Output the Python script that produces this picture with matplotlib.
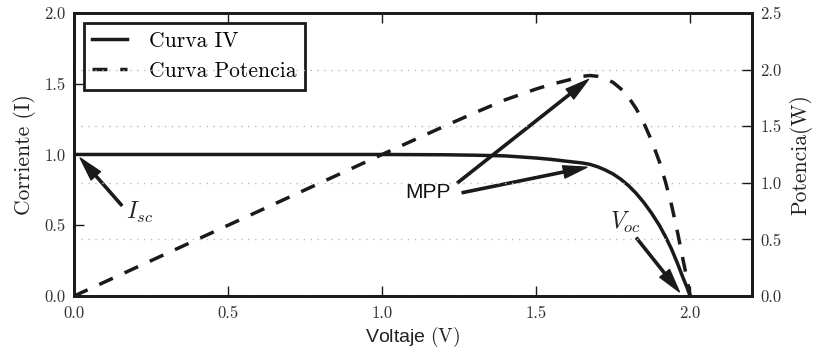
import matplotlib
matplotlib.use("Agg")
import matplotlib.pyplot as plt

plt.rcParams['font.family'] = 'serif'
plt.rcParams['font.serif'] = ['cmr10', 'DejaVu Serif']
plt.rcParams['mathtext.fontset'] = 'cm'
plt.rcParams['axes.formatter.use_mathtext'] = True

# Data
voltage = [0.0, 0.2, 0.4, 0.6, 0.8, 1.0, 1.2, 1.3, 1.4, 1.5, 1.55, 1.6, 1.625,
           1.65, 1.675, 1.7, 1.725, 1.75, 1.775, 1.8, 1.825, 1.85, 1.875, 1.9,
           1.92, 1.94, 1.96, 1.975, 1.99, 2.0]
current = [1.0, 1.0, 1.0, 1.0, 1.0, 1.0, 0.998, 0.995, 0.99, 0.975, 0.965, 0.952,
           0.946, 0.94, 0.93, 0.913, 0.89, 0.862, 0.825, 0.78, 0.725, 0.66, 0.585,
           0.50, 0.42, 0.33, 0.225, 0.14, 0.06, 0.0]
power = [0.0, 0.25, 0.5, 0.75, 1.0, 1.25, 1.497, 1.617, 1.733, 1.828, 1.870, 1.904,
         1.922, 1.940, 1.947, 1.940, 1.919, 1.886, 1.830, 1.755, 1.654, 1.526,
         1.371, 1.188, 1.008, 0.800, 0.551, 0.346, 0.149, 0.0]

series_labels = ["Curva IV", "Curva Potencia"]
x_ticks = [0.0, 0.5, 1.0, 1.5, 2.0]
left_ticks = [0.0, 0.5, 1.0, 1.5, 2.0]
right_ticks = [0.0, 0.5, 1.0, 1.5, 2.0, 2.5]

ink = '#1a1a1a'
fig = plt.figure(figsize=(8.18, 3.58), dpi=100)
ax = fig.add_axes([0.0905, 0.173, 0.8285, 0.791])
ax2 = ax.twinx()

l1, = ax.plot(voltage, current, color=ink, lw=2.5, label=series_labels[0])
l2, = ax2.plot(voltage, power, color=ink, lw=2.5, linestyle=(0, (4.3, 3.7)),
               label=series_labels[1])

ax.set_xlim(0, 2.2)
ax.set_ylim(0, 2.0)
ax2.set_ylim(0, 2.5)
ax.set_xticks(x_ticks)
ax.set_yticks(left_ticks)
ax2.set_yticks(right_ticks)
ax.set_xticklabels([f"{t:.1f}" for t in x_ticks])
ax.set_yticklabels([f"{t:.1f}" for t in left_ticks])
ax2.set_yticklabels([f"{t:.1f}" for t in right_ticks])

ax2.grid(axis='y', color='#bbbbbb', linestyle=(0, (1, 4)), lw=1)
ax.set_axisbelow(True)
ax2.set_axisbelow(True)

for a in (ax, ax2):
    for s in a.spines.values():
        s.set_linewidth(2.0)
        s.set_color(ink)
ax.tick_params(axis='both', direction='in', length=7, width=1, colors=ink,
               labelsize=12, top=True, pad=6)
ax.tick_params(axis='x', pad=7)
ax2.tick_params(axis='y', direction='in', length=7, width=1, colors=ink,
                labelsize=12, pad=6)
ax.tick_params(labelcolor='#333333')
ax2.tick_params(labelcolor='#333333')

ax.set_xlabel(r"Voltaje $(\mathrm{V})$", family='Liberation Sans', fontsize=14,
              color='#222222', labelpad=3)
ax.set_ylabel("Corriente (I)", fontsize=15.5, color='#222222', labelpad=6)
ax2.set_ylabel("Potencia(W)", fontsize=15.5, color='#222222', labelpad=6)

leg = ax.legend([l1, l2], series_labels, loc='upper left', fontsize=15.5,
                frameon=True, fancybox=False, edgecolor=ink, handlelength=1.6,
                borderaxespad=0.45, labelspacing=0.5, handletextpad=1.05,
                borderpad=0.4)
leg.get_frame().set_linewidth(2.0)
leg.get_frame().set_alpha(1)

arrow = dict(facecolor=ink, edgecolor=ink, width=1.6, headwidth=9,
             headlength=17, shrink=0)

# Isc
ax.annotate("", xy=(0.02, 0.975), xytext=(0.155, 0.64), arrowprops=arrow)
ax.text(0.17, 0.59, r"$I_{sc}$", fontsize=17, color='#222222', ha='left',
        va='center')
# MPP
ax.text(1.148, 0.73, "MPP", family='Liberation Sans', fontsize=15,
        color='#111111', ha='center', va='center')
ax.annotate("", xy=(1.67, 1.53), xytext=(1.245, 0.80), arrowprops=arrow)
ax.annotate("", xy=(1.665, 0.91), xytext=(1.26, 0.73), arrowprops=arrow)
# Voc
ax.text(1.79, 0.52, r"$V_{oc}$", fontsize=17, color='#222222', ha='center',
        va='center')
ax.annotate("", xy=(1.965, 0.03), xytext=(1.826, 0.41), arrowprops=arrow)

fig.savefig("out.png", dpi=100)
